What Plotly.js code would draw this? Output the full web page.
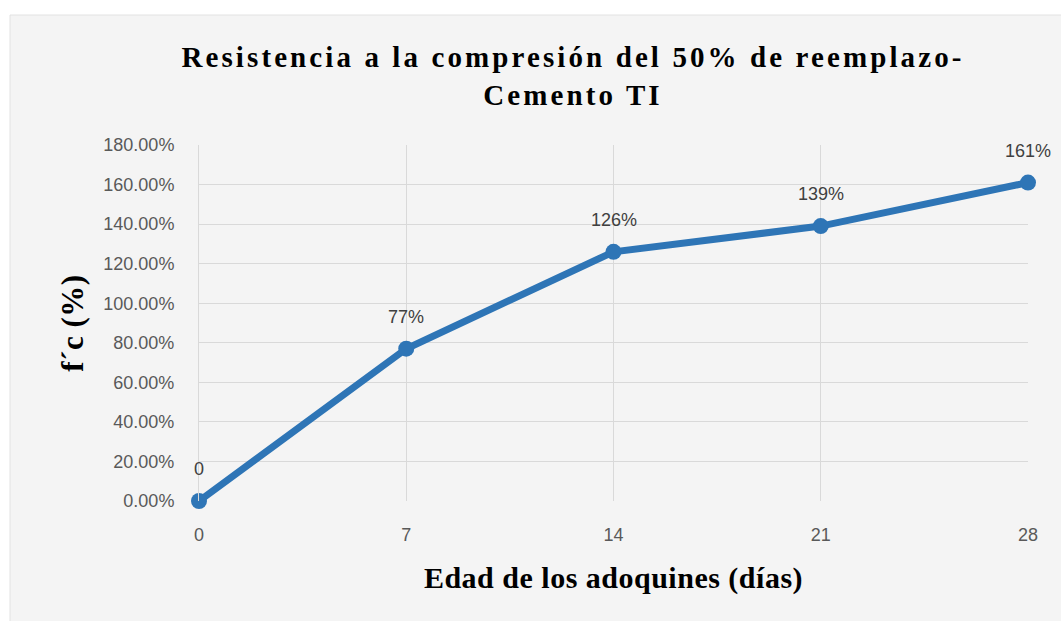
<!DOCTYPE html>
<html>
<head>
<meta charset="utf-8">
<script src="https://cdn.plot.ly/plotly-3.0.1.min.js"></script>
<style>
html,body{margin:0;padding:0;background:#fff;}
#chart{width:1061px;height:621px;}
.gtitle{letter-spacing:3.1px;}
.xtitle,.ytitle{letter-spacing:0.5px;}
</style>
</head>
<body>
<div id="chart"></div>
<script>
const days = [0, 7, 14, 21, 28];
const strength = [0, 0.77, 1.26, 1.39, 1.61];
const pointLabels = ['0', '77%', '126%', '139%', '161%'];
const xTicks = [0, 7, 14, 21, 28];

const W = 1061, H = 621;
const L = 199, R = 33, T = 145, B = 120;
const pw = W - L - R, ph = H - T - B;
const px = v => (v - L) / pw;
const py = v => (H - B - v) / ph;

const tickFont = {family: 'Liberation Sans, Arial, sans-serif', size: 18, color: '#595959'};

const trace = {
  x: days,
  y: strength,
  type: 'scatter',
  mode: 'lines+markers',
  line: {color: '#2e75b6', width: 7},
  marker: {color: '#2e75b6', size: 16},
  cliponaxis: false,
  hoverinfo: 'skip'
};

const labelAnnotations = days.map((d, i) => ({
  x: d, y: strength[i], xref: 'x', yref: 'y',
  text: pointLabels[i],
  showarrow: false,
  yshift: 32,
  font: {family: 'Liberation Sans, Arial, sans-serif', size: 18, color: '#404040'}
}));

const layout = {
  width: W, height: H,
  margin: {l: L, r: R, t: T, b: B},
  paper_bgcolor: '#ffffff',
  plot_bgcolor: 'rgba(0,0,0,0)',
  showlegend: false,
  title: {
    text: 'Resistencia a la compresión del 50% de reemplazo-<br>Cemento TI',
    font: {family: 'Liberation Serif, Times New Roman, serif', size: 29, color: '#000', weight: 'bold'},
    x: px(573), xref: 'paper', xanchor: 'center',
    y: 1 - 67 / H, yref: 'container', yanchor: 'top'
  },
  xaxis: {
    range: [0, 28],
    tickvals: xTicks,
    ticktext: xTicks.map(String),
    showgrid: true, gridcolor: '#d9d9d9', gridwidth: 1,
    zeroline: false, showline: false,
    ticks: '', ticklen: 0,
    ticklabelstandoff: 21,
    tickfont: tickFont,
    title: {
      text: 'Edad de los adoquines (días)',
      font: {family: 'Liberation Serif, Times New Roman, serif', size: 30, color: '#000', weight: 'bold'},
      standoff: 22
    },
    fixedrange: true
  },
  yaxis: {
    range: [0, 1.8],
    dtick: 0.2,
    tick0: 0,
    tickformat: '.2%',
    showgrid: true, gridcolor: '#d9d9d9', gridwidth: 1,
    zeroline: false, showline: true, linecolor: '#d9d9d9',
    ticks: '', ticklen: 0,
    ticklabelstandoff: 20,
    tickfont: tickFont,
    title: {
      text: 'f´c (%)',
      font: {family: 'Liberation Serif, Times New Roman, serif', size: 31, color: '#000', weight: 'bold'},
      standoff: 10
    },
    fixedrange: true
  },
  annotations: labelAnnotations,
  shapes: [{
    type: 'rect', xref: 'paper', yref: 'paper', layer: 'below',
    x0: px(10), x1: px(1075), y0: py(640), y1: py(15),
    fillcolor: '#f4f4f4', line: {color: '#e2e2e2', width: 1}
  }]
};

Plotly.newPlot('chart', [trace], layout, {displayModeBar: false, staticPlot: true});
</script>
</body>
</html>
